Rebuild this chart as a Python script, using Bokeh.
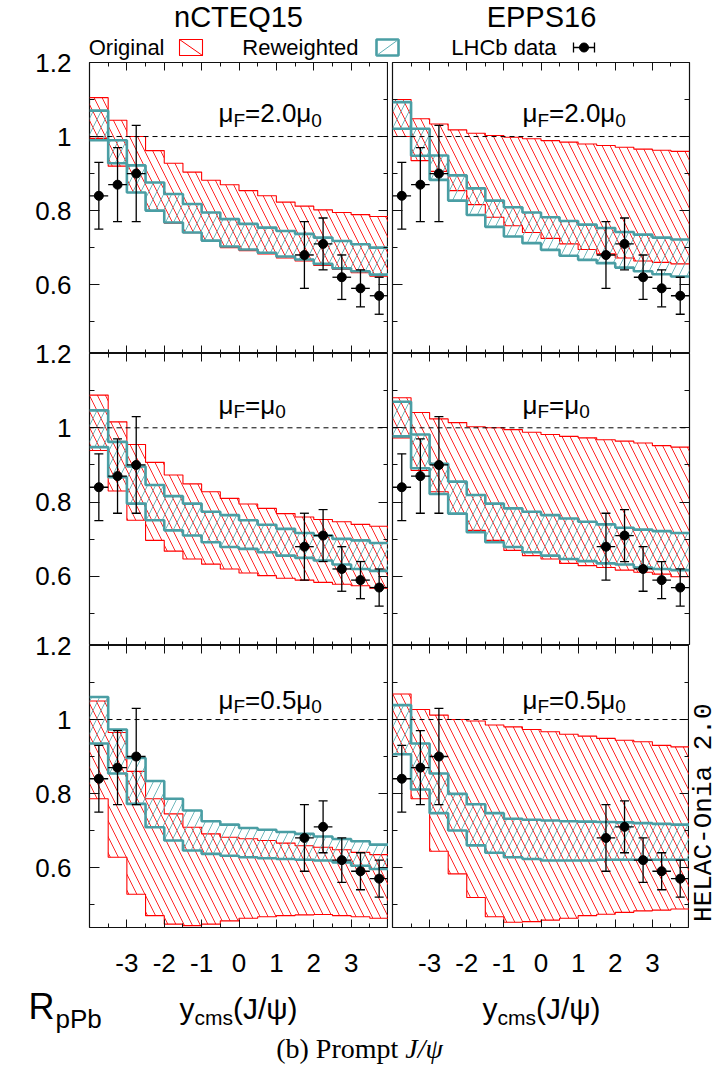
import math
from bokeh.plotting import figure
from bokeh.layouts import column, row
from bokeh.models import (LinearAxis, Range1d, FixedTicker, Span, Spacer,
                          ColumnDataSource, Whisker, TeeHead, CustomJSTickFormatter)
from bokeh.embed import file_html
from bokeh.resources import INLINE
from bokeh.core.properties import value

SANS = "Liberation Sans"
SERIF = "Liberation Serif"
MONO = "Liberation Mono"
RED = "#ff0000"
TEAL = "#4a9ea4"
TEAL_HATCH = "#5fb0b5"

# ---------------- data ----------------
bin_edges = [-4.0, -3.5, -3.0, -2.5, -2.0, -1.5, -1.0, -0.5, 0.0,
             0.5, 1.0, 1.5, 2.0, 2.5, 3.0, 3.5, 4.0]

lhcb_y = [-3.75, -3.25, -2.75, 1.75, 2.25, 2.75, 3.25, 3.75]
lhcb_r = [0.84, 0.87, 0.90, 0.68, 0.71, 0.62, 0.59, 0.57]
lhcb_err = [0.09, 0.10, 0.13, 0.09, 0.07, 0.06, 0.05, 0.05]
lhcb_halfbin = [0.25, 0.25, 0.25, 0.25, 0.25, 0.25, 0.25, 0.25]

# nCTEQ15, muF = 2.0 mu0
ncteq_mu20_orig_hi = [1.105, 1.044, 1.0, 0.962, 0.928, 0.904, 0.882, 0.87, 0.854, 0.84, 0.823, 0.812, 0.802, 0.795, 0.789, 0.784]
ncteq_mu20_orig_lo = [0.995, 0.92, 0.849, 0.80, 0.766, 0.74, 0.718, 0.70, 0.692, 0.683, 0.672, 0.664, 0.652, 0.641, 0.632, 0.623]
ncteq_mu20_rew_hi = [1.07, 0.99, 0.922, 0.876, 0.845, 0.818, 0.795, 0.777, 0.764, 0.754, 0.745, 0.737, 0.727, 0.718, 0.709, 0.70]
ncteq_mu20_rew_lo = [0.99, 0.928, 0.849, 0.80, 0.768, 0.741, 0.719, 0.703, 0.695, 0.686, 0.676, 0.668, 0.656, 0.644, 0.636, 0.627]

# EPPS16, muF = 2.0 mu0
epps_mu20_orig_hi = [1.10, 1.048, 1.034, 1.018, 1.009, 1.003, 0.998, 0.994, 0.989, 0.985, 0.98, 0.976, 0.971, 0.966, 0.963, 0.96]
epps_mu20_orig_lo = [1.0, 0.935, 0.906, 0.854, 0.816, 0.782, 0.759, 0.741, 0.725, 0.71, 0.695, 0.683, 0.672, 0.664, 0.66, 0.656]
epps_mu20_rew_hi = [1.093, 1.021, 0.949, 0.895, 0.86, 0.827, 0.809, 0.795, 0.782, 0.772, 0.762, 0.753, 0.742, 0.735, 0.727, 0.722]
epps_mu20_rew_lo = [1.021, 0.948, 0.883, 0.827, 0.788, 0.756, 0.73, 0.712, 0.694, 0.678, 0.667, 0.658, 0.646, 0.636, 0.628, 0.622]

# nCTEQ15, muF = mu0
ncteq_mu10_orig_hi = [1.088, 1.016, 0.955, 0.907, 0.873, 0.849, 0.828, 0.81, 0.795, 0.783, 0.769, 0.76, 0.753, 0.747, 0.74, 0.735]
ncteq_mu10_orig_lo = [0.939, 0.83, 0.751, 0.697, 0.668, 0.647, 0.633, 0.62, 0.609, 0.602, 0.595, 0.59, 0.584, 0.579, 0.575, 0.568]
ncteq_mu10_rew_hi = [1.047, 0.962, 0.896, 0.846, 0.816, 0.796, 0.774, 0.765, 0.751, 0.739, 0.728, 0.717, 0.71, 0.701, 0.697, 0.69]
ncteq_mu10_rew_lo = [0.948, 0.867, 0.796, 0.751, 0.724, 0.71, 0.692, 0.679, 0.674, 0.665, 0.656, 0.65, 0.643, 0.632, 0.62, 0.615]

# EPPS16, muF = mu0
epps_mu10_orig_hi = [1.081, 1.041, 1.024, 1.014, 1.003, 1.0, 0.995, 0.988, 0.982, 0.977, 0.973, 0.968, 0.964, 0.959, 0.952, 0.948]
epps_mu10_orig_lo = [0.973, 0.885, 0.828, 0.769, 0.724, 0.697, 0.67, 0.656, 0.647, 0.635, 0.629, 0.624, 0.617, 0.611, 0.606, 0.599]
epps_mu10_rew_hi = [1.07, 0.982, 0.903, 0.855, 0.819, 0.796, 0.783, 0.774, 0.765, 0.756, 0.747, 0.74, 0.731, 0.726, 0.722, 0.717]
epps_mu10_rew_lo = [0.977, 0.891, 0.822, 0.769, 0.719, 0.692, 0.679, 0.665, 0.656, 0.647, 0.641, 0.635, 0.632, 0.624, 0.62, 0.617]

# nCTEQ15, muF = 0.5 mu0
ncteq_mu05_orig_hi = [1.05, 0.965, 0.86, 0.786, 0.745, 0.709, 0.691, 0.682, 0.678, 0.673, 0.666, 0.659, 0.655, 0.648, 0.641, 0.635]
ncteq_mu05_orig_lo = [0.786, 0.628, 0.528, 0.47, 0.447, 0.443, 0.447, 0.456, 0.463, 0.467, 0.47, 0.472, 0.473, 0.47, 0.467, 0.463]
ncteq_mu05_rew_hi = [1.061, 0.973, 0.896, 0.834, 0.786, 0.754, 0.725, 0.716, 0.707, 0.702, 0.696, 0.691, 0.684, 0.677, 0.671, 0.662]
ncteq_mu05_rew_lo = [0.935, 0.854, 0.772, 0.709, 0.673, 0.646, 0.637, 0.632, 0.628, 0.625, 0.623, 0.621, 0.619, 0.614, 0.605, 0.596]

# EPPS16, muF = 0.5 mu0
epps_mu05_orig_hi = [1.069, 1.027, 1.012, 1.0, 0.996, 0.985, 0.98, 0.973, 0.967, 0.96, 0.955, 0.949, 0.944, 0.94, 0.93, 0.926]
epps_mu05_orig_lo = [0.908, 0.786, 0.644, 0.583, 0.519, 0.467, 0.452, 0.454, 0.458, 0.463, 0.47, 0.474, 0.479, 0.483, 0.485, 0.488]
epps_mu05_rew_hi = [1.039, 0.935, 0.854, 0.799, 0.771, 0.747, 0.732, 0.729, 0.727, 0.725, 0.724, 0.723, 0.722, 0.72, 0.718, 0.716]
epps_mu05_rew_lo = [0.906, 0.811, 0.747, 0.70, 0.66, 0.64, 0.628, 0.623, 0.619, 0.619, 0.619, 0.621, 0.621, 0.621, 0.621, 0.621]

column_titles = ["nCTEQ15", "EPPS16"]
legend_labels = ["Original", "Reweighted", "LHCb data"]
mu_label_parts = [["μ", "F", "=2.0μ", "0"], ["μ", "F", "=μ", "0"], ["μ", "F", "=0.5μ", "0"]]

x_major_ticks = [-3, -2, -1, 0, 1, 2, 3]
x_minor_ticks = [-3.5, -2.5, -1.5, -0.5, 0.5, 1.5, 2.5, 3.5]
y_major_ticks = [0.4, 0.6, 0.8, 1.0, 1.2]
y_tick_labels = ["0.4", "0.6", "0.8", "1", "1.2"]
y_minor_ticks = [0.5, 0.7, 0.9, 1.1]

# approximate advance widths (em) of Liberation Sans glyphs used for composed labels
EM = {"μ": 0.576, "F": 0.611, "=": 0.584, "2": 0.556, ".": 0.278, "0": 0.556, "5": 0.556,
      "y": 0.5, "c": 0.5, "m": 0.833, "s": 0.5, "(": 0.333, ")": 0.333, "J": 0.5,
      "/": 0.278, "ψ": 0.712}

HATCH_SCALE = 16
CAP_MID = 0.36   # distance (em) from baseline to middle of capitals
BOTTOM_AXIS = 58  # room under the bottom panels for the tick labels


def tw(s, size):
    return sum(EM.get(ch, 0.556) for ch in s) * size


def ext(v):
    return list(v) + [v[-1]]


def build_panel(orig_lo, orig_hi, rew_lo, rew_hi, y_lo, frame_h, is_left, is_bottom, mu_parts,
                right_border=28):
    bl = 89 if is_left else 4
    br = 0 if is_left else right_border
    w = bl + (299 if is_left else 297) + br
    bt = 15
    bb = BOTTOM_AXIS if is_bottom else 0
    p = figure(width=w, height=bt + frame_h + bb, title=None,
               x_range=Range1d(-4, 4), y_range=Range1d(y_lo, 1.2 + 1e-6),
               output_backend="svg", toolbar_location=None,
               min_border_left=bl, min_border_right=br, min_border_top=bt, min_border_bottom=bb,
               background_fill_color=None, border_fill_color=None,
               outline_line_color="#111111", outline_line_width=1.2)
    p.grid.visible = False
    p.add_layout(LinearAxis(), "above")
    p.add_layout(LinearAxis(), "right")
    for ax in p.xaxis:
        ax.ticker = FixedTicker(ticks=x_major_ticks, minor_ticks=x_minor_ticks)
        ax.major_tick_in = 8
        ax.minor_tick_in = 4
    for ax in p.yaxis:
        ax.ticker = FixedTicker(ticks=y_major_ticks, minor_ticks=y_minor_ticks)
        ax.major_tick_in = 10
        ax.minor_tick_in = 5
    for ax in p.axis:
        ax.major_tick_out = 0
        ax.minor_tick_out = 0
        ax.axis_line_color = None
        ax.major_tick_line_color = "#111111"
        ax.minor_tick_line_color = "#111111"
        ax.major_label_text_font_size = "1px"
        ax.major_label_standoff = 0
        ax.formatter = CustomJSTickFormatter(code="return ''")
    if is_left:
        ya = p.left[0]
        ya.formatter = CustomJSTickFormatter(
            args=dict(tvals=y_major_ticks, tlabels=y_tick_labels),
            code="""
            for (let i = 0; i < tvals.length; i++) {
                if (Math.abs(tvals[i] - tick) < 1e-6) { return tlabels[i]; }
            }
            return '';
            """)
        ya.major_label_text_font_size = "26px"
        ya.major_label_text_font = SANS
        ya.major_label_text_color = "black"
        ya.major_label_standoff = 18
    if is_bottom:
        xa = p.below[0]
        xa.formatter = CustomJSTickFormatter(code="return tick.toString()")
        xa.major_label_text_font_size = "26px"
        xa.major_label_text_font = SANS
        xa.major_label_text_color = "black"
        xa.major_label_standoff = 26

    # dashed line at unity
    p.add_layout(Span(location=1.0, dimension="width", line_color="black",
                      line_dash="5 4", line_width=1))

    # Original (red) band
    p.varea_step(x=bin_edges, y1=ext(orig_lo), y2=ext(orig_hi), step_mode="after",
                 fill_alpha=0, hatch_pattern="\\", hatch_color=RED, hatch_alpha=0.85,
                 hatch_scale=HATCH_SCALE, hatch_weight=1)
    p.step(x=bin_edges, y=ext(orig_hi), mode="after", line_color=RED, line_width=1.1)
    p.step(x=bin_edges, y=ext(orig_lo), mode="after", line_color=RED, line_width=1.1)

    # Reweighted (teal) band
    p.varea_step(x=bin_edges, y1=ext(rew_lo), y2=ext(rew_hi), step_mode="after",
                 fill_alpha=0, hatch_pattern="/", hatch_color=TEAL_HATCH, hatch_alpha=0.9,
                 hatch_scale=HATCH_SCALE, hatch_weight=1)
    p.step(x=bin_edges, y=ext(rew_hi), mode="after", line_color=TEAL, line_width=2.6)
    p.step(x=bin_edges, y=ext(rew_lo), mode="after", line_color=TEAL, line_width=2.6)

    # LHCb data
    src = ColumnDataSource(dict(
        y=lhcb_y, r=lhcb_r,
        lo=[r - e for r, e in zip(lhcb_r, lhcb_err)],
        hi=[r + e for r, e in zip(lhcb_r, lhcb_err)],
        xl=[y - h for y, h in zip(lhcb_y, lhcb_halfbin)],
        xh=[y + h for y, h in zip(lhcb_y, lhcb_halfbin)]))
    p.segment(x0="xl", x1="xh", y0="r", y1="r", source=src, line_color="black", line_width=1.3)
    p.add_layout(Whisker(source=src, base="y", upper="hi", lower="lo",
                         line_color="black", line_width=1.3,
                         upper_head=TeeHead(size=9, line_color="black", line_width=1.3),
                         lower_head=TeeHead(size=9, line_color="black", line_width=1.3),
                         level="glyph"))
    p.scatter(x="y", y="r", source=src, size=9, color="black")

    # mu_F label (baseline at my, subscripts dropped by 4 px); drawn with middle baseline
    main_fs, sub_fs = 26, 19
    offs, sizes, dys = [], [], []
    cur = 0.0
    for i, part in enumerate(mu_parts):
        is_sub = (i % 2 == 1)
        fs = sub_fs if is_sub else main_fs
        offs.append(cur)
        sizes.append("%dpx" % fs)
        dys.append((4 if is_sub else 0) - CAP_MID * fs)
        cur += tw(part, fs)
    mx = -0.55 if is_left else -0.50
    my = 1.028 if is_bottom else 1.037
    msrc = ColumnDataSource(dict(x=[mx] * len(mu_parts), y=[my] * len(mu_parts), text=mu_parts,
                                 fs=sizes, dx=offs, dy=dys))
    p.text(x="x", y="y", text="text", x_offset="dx", y_offset="dy", text_font_size="fs",
           text_font=value(SANS), text_baseline="middle", text_align="left",
           text_color="black", source=msrc)
    return p


def blank(x_left, x_right, y_top, y_bottom):
    f = figure(width=x_right - x_left, height=y_bottom - y_top, title=None,
               x_range=Range1d(x_left, x_right),
               y_range=Range1d(y_bottom, y_top), output_backend="svg", toolbar_location=None,
               x_axis_location=None, y_axis_location=None, min_border=0,
               outline_line_color=None, background_fill_color=None, border_fill_color=None)
    f.grid.visible = False
    return f


def mid(baseline, fs):
    return baseline - CAP_MID * fs


# ---------------- header (titles + legend) ----------------
head = blank(85, 717, 0, 62)
head.text(x=[238, 541], y=[mid(27, 29)] * 2, text=column_titles, text_font=value(SANS),
          text_font_size="29px", text_align="center", text_baseline="middle", text_color="black")
head.text(x=[164, 358, 556], y=[mid(55, 22)] * 3, text=legend_labels, text_font=value(SANS),
          text_font_size="22px", text_align="right", text_baseline="middle", text_color="black")
head.quad(left=[179], right=[202], top=[39], bottom=[55], fill_color=None, line_color=RED, line_width=1.1)
head.segment(x0=[179], y0=[39], x1=[202], y1=[55], line_color=RED, line_width=1)
head.quad(left=[376], right=[398], top=[39], bottom=[55], fill_color=None, line_color=TEAL, line_width=2.6)
head.segment(x0=[376], y0=[55], x1=[398], y1=[39], line_color=TEAL_HATCH, line_width=1)
head.segment(x0=[573], y0=[47], x1=[594], y1=[47], line_color="black", line_width=1.3)
head.segment(x0=[573, 594], y0=[42, 42], x1=[573, 594], y1=[52, 52], line_color="black", line_width=1.3)
head.scatter(x=[583.5], y=[47], size=9, color="black")

# ---------------- panels ----------------
tl = build_panel(ncteq_mu20_orig_lo, ncteq_mu20_orig_hi, ncteq_mu20_rew_lo, ncteq_mu20_rew_hi,
                 0.414, 291, True, False, mu_label_parts[0])
tr = build_panel(epps_mu20_orig_lo, epps_mu20_orig_hi, epps_mu20_rew_lo, epps_mu20_rew_hi,
                 0.414, 291, False, False, mu_label_parts[0])
ml = build_panel(ncteq_mu10_orig_lo, ncteq_mu10_orig_hi, ncteq_mu10_rew_lo, ncteq_mu10_rew_hi,
                 0.414, 292, True, False, mu_label_parts[1])
mr = build_panel(epps_mu10_orig_lo, epps_mu10_orig_hi, epps_mu10_rew_lo, epps_mu10_rew_hi,
                 0.414, 292, False, False, mu_label_parts[1])
bl_ = build_panel(ncteq_mu05_orig_lo, ncteq_mu05_orig_hi, ncteq_mu05_rew_lo, ncteq_mu05_rew_hi,
                  0.438, 282, True, True, mu_label_parts[2])
br_ = build_panel(epps_mu05_orig_lo, epps_mu05_orig_hi, epps_mu05_rew_lo, epps_mu05_rew_hi,
                  0.438, 282, False, True, mu_label_parts[2], right_border=0)

row3_bottom = 927 + BOTTOM_AXIS

# side strip with the program tag, beside the bottom-right panel
strip = blank(689, 717, 630, row3_bottom)
strip.text(x=[703], y=[978], text=["HELAC-Onia 2.0"], angle=math.pi / 2,
           text_font=value(MONO), text_font_size="26px", text_baseline="middle",
           text_align="left", text_color="black")

# ---------------- footer (axis titles + caption) ----------------
foot = blank(0, 717, row3_bottom, 1078)
foot.text(x=[28], y=[1006], text=["R"], text_font=value(SANS), text_font_size="36px",
          text_baseline="middle", text_align="left", text_color="black")
foot.text(x=[55], y=[mid(1028, 26)], text=["pPb"], text_font=value(SANS), text_font_size="26px",
          text_baseline="middle", text_align="left", text_color="black")
ycms_parts = ["y", "cms", "(J/ψ)"]
for c in [238, 541]:
    sizes = [30, 21, 30]
    total = sum(tw(s, f) for s, f in zip(ycms_parts, sizes))
    x0 = c - total / 2
    xs, ys = [], []
    for s, f, dy in zip(ycms_parts, sizes, [0, 6, 0]):
        xs.append(x0)
        ys.append(mid(1019 + dy, f))
        x0 += tw(s, f)
    foot.text(x=xs, y=ys, text=ycms_parts, text_font=value(SANS),
              text_font_size=["30px", "21px", "30px"], text_baseline="middle",
              text_align="left", text_color="black")
cap_main = "(b) Prompt "
cap_it = "J/ψ"
cap_fs = 28
w_main = 4.611 * cap_fs
w_it = 1.41 * cap_fs
cx0 = 360 - (w_main + w_it) / 2
foot.text(x=[cx0], y=[mid(1058, 28)], text=[cap_main], text_font=value(SERIF), text_font_size="28px",
          text_baseline="middle", text_align="left", text_color="black")
foot.text(x=[cx0 + w_main], y=[mid(1058, 28)], text=[cap_it], text_font=value(SERIF), text_font_size="28px",
          text_font_style="italic", text_baseline="middle", text_align="left", text_color="black")

head_row = row(Spacer(width=85, height=47), head,
               styles={"z-index": "10", "position": "relative"})
layout = column(head_row,
                row(tl, tr, margin=(-15, 0, 0, 0)),
                row(ml, mr, margin=(-15, 0, 0, 0)),
                row(bl_, br_, strip, margin=(-15, 0, 0, 0)),
                foot)

open("out.html", "w").write(file_html(layout, INLINE))
